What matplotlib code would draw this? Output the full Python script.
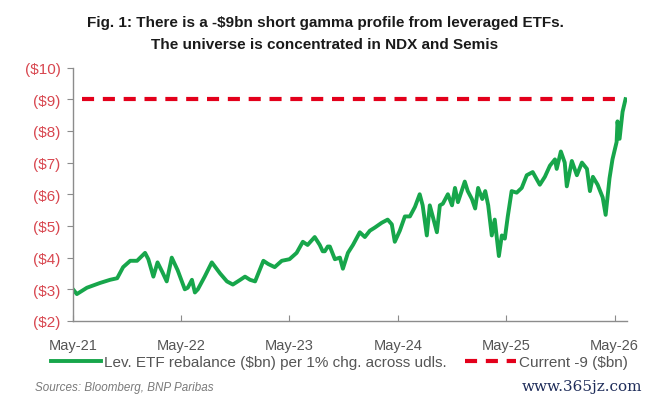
import matplotlib
matplotlib.use("Agg")
import matplotlib.pyplot as plt
import pandas as pd
from matplotlib.ticker import FuncFormatter
from matplotlib import font_manager

# ---- data ----
dates = [
    "2021-05-01", "2021-05-14", "2021-06-17", "2021-07-31", "2021-09-03", "2021-09-27",
    "2021-10-17", "2021-11-10", "2021-12-03", "2021-12-30", "2022-01-10", "2022-01-27",
    "2022-02-10", "2022-02-26", "2022-03-13", "2022-03-30", "2022-04-19", "2022-05-13",
    "2022-05-23", "2022-06-06", "2022-06-16", "2022-06-26", "2022-07-19", "2022-08-12",
    "2022-09-09", "2022-10-02", "2022-10-22", "2022-11-16", "2022-12-02", "2022-12-19",
    "2023-01-05", "2023-02-02", "2023-02-18", "2023-03-12", "2023-04-05", "2023-05-01",
    "2023-05-25", "2023-06-15", "2023-07-01", "2023-07-25", "2023-08-11", "2023-08-21",
    "2023-08-28", "2023-09-07", "2023-09-14", "2023-10-01", "2023-10-18", "2023-10-28",
    "2023-11-14", "2023-12-01", "2023-12-24", "2024-01-10", "2024-01-27", "2024-02-13",
    "2024-03-07", "2024-03-27", "2024-04-10", "2024-04-20", "2024-05-07", "2024-05-24",
    "2024-06-10", "2024-06-27", "2024-07-13", "2024-07-23", "2024-08-06", "2024-08-16",
    "2024-08-26", "2024-09-09", "2024-09-19", "2024-09-29", "2024-10-16", "2024-10-30",
    "2024-11-09", "2024-11-19", "2024-12-12", "2024-12-22", "2025-01-05", "2025-01-16",
    "2025-01-26", "2025-02-09", "2025-02-19", "2025-03-01", "2025-03-13", "2025-03-23",
    "2025-04-06", "2025-04-16", "2025-04-26", "2025-05-06", "2025-05-19", "2025-06-05",
    "2025-06-22", "2025-07-09", "2025-07-29", "2025-08-22", "2025-09-08", "2025-09-25",
    "2025-10-12", "2025-10-18", "2025-11-01", "2025-11-14", "2025-11-21", "2025-12-08",
    "2025-12-25", "2026-01-11", "2026-01-28", "2026-02-07", "2026-02-17", "2026-03-05",
    "2026-03-22", "2026-04-01", "2026-04-14", "2026-04-24", "2026-05-08", "2026-05-11",
    "2026-05-18", "2026-05-28", "2026-06-07",
]
rebalance = [
    -3.0, -2.85, -3.05, -3.2, -3.3, -3.35,
    -3.7, -3.9, -3.9, -4.15, -3.95, -3.4,
    -3.85, -3.55, -3.25, -4.0, -3.6, -3.0,
    -3.05, -3.3, -2.9, -3.0, -3.4, -3.85,
    -3.5, -3.25, -3.15, -3.3, -3.4, -3.3,
    -3.25, -3.9, -3.8, -3.7, -3.9, -3.95,
    -4.15, -4.5, -4.4, -4.65, -4.4, -4.2,
    -4.2, -4.35, -4.35, -3.95, -4.0, -3.65,
    -4.15, -4.4, -4.8, -4.65, -4.85, -4.95,
    -5.1, -5.2, -5.05, -4.5, -4.85, -5.3,
    -5.3, -5.6, -6.0, -5.65, -4.7, -5.65,
    -5.3, -4.8, -5.65, -5.7, -6.0, -5.65,
    -6.2, -5.75, -6.4, -6.1, -5.85, -5.55,
    -6.2, -5.85, -6.1, -5.65, -4.7, -5.2,
    -4.05, -4.7, -4.6, -5.3, -6.1, -6.05,
    -6.2, -6.6, -6.7, -6.3, -6.55, -6.9,
    -7.1, -6.8, -7.35, -7.0, -6.25, -7.05,
    -6.6, -7.0, -6.8, -6.1, -6.55, -6.3,
    -5.9, -5.35, -6.5, -7.1, -7.65, -8.3,
    -7.75, -8.6, -9.0,
]
current_level = -9.0
current_span = ["2021-06-01", "2026-05-11"]

y_ticks = [-2, -3, -4, -5, -6, -7, -8, -9, -10]
x_ticks = ["2021-05-01", "2022-05-01", "2023-05-01", "2024-05-01", "2025-05-01", "2026-05-01"]
x_labels = ["May-21", "May-22", "May-23", "May-24", "May-25", "May-26"]

title = ("Fig. 1: There is a -$9bn short gamma profile from leveraged ETFs.\n"
         "The universe is concentrated in NDX and Semis")
label_series = "Lev. ETF rebalance ($bn) per 1% chg. across udls."
label_current = "Current -9 ($bn)"
source = "Sources: Bloomberg, BNP Paribas"
watermark = "www.365jz.com"

# ---- plot ----
plt.rcParams['font.family'] = ['Liberation Sans', 'DejaVu Sans']
installed = {f.name for f in font_manager.fontManager.ttflist}
narrow_ok = "Liberation Sans Narrow" in installed

fig = plt.figure(figsize=(6.5, 4.02), dpi=100)
ax = fig.add_axes([73 / 650, 80 / 402, (627 - 73) / 650, (322 - 68.5) / 402])

x = pd.to_datetime(dates)
green = "#17a64b"
red = "#e3001b"
l1, = ax.plot(x, rebalance, color=green, lw=2.8, solid_joinstyle="round", label=label_series)
cs = pd.to_datetime(current_span)
l2, = ax.plot(cs, [current_level, current_level], color=red, lw=3.0,
              dashes=(2.9, 2.1), label=label_current)

ax.set_ylim(-2, -10)
ax.set_yticks(y_ticks)
ax.yaxis.set_major_formatter(FuncFormatter(lambda v, p: "(${:d})".format(int(round(abs(v))))))
ax.set_xlim(pd.Timestamp("2021-05-01"), pd.Timestamp("2026-06-12"))
ax.set_xticks(pd.to_datetime(x_ticks))
ax.set_xticklabels(x_labels)

for s in ["top", "right"]:
    ax.spines[s].set_visible(False)
for s in ["left", "bottom"]:
    ax.spines[s].set_color("#8c8c8c")
    ax.spines[s].set_linewidth(1.0)
ax.tick_params(axis="y", direction="out", length=4, color="#8c8c8c", labelcolor="#d8464f",
               labelsize=11, pad=5)
ax.tick_params(axis="x", direction="in", length=4, color="#8c8c8c", labelcolor="#555555",
               labelsize=10.5, pad=12)

fig.text(0.5, 1 - 34 / 402, title, ha="center", va="center", fontsize=11,
         fontweight="bold", color="#1a1a1a", linespacing=1.65)

fig.legend(handles=[l1, l2], loc="center", bbox_to_anchor=(0.522, 1 - 363 / 402), ncol=2,
           frameon=False, fontsize=11, labelcolor="#555555", handlelength=3.3,
           handletextpad=0.2, columnspacing=1.2, borderaxespad=0, borderpad=0)

if narrow_ok:
    fig.text(35 / 650, 1 - 388 / 402, source, ha="left", va="center", fontsize=10,
             style="italic", color="#7a7a7a", family="Liberation Sans Narrow")
else:
    fig.text(35 / 650, 1 - 388 / 402, source, ha="left", va="center", fontsize=8.4,
             style="italic", color="#7a7a7a")
fig.text(642 / 650, 1 - 387 / 402, watermark, ha="right", va="center", fontsize=11,
         family="DejaVu Serif", color="#1f2d5a")

fig.savefig("out.png", dpi=100)
